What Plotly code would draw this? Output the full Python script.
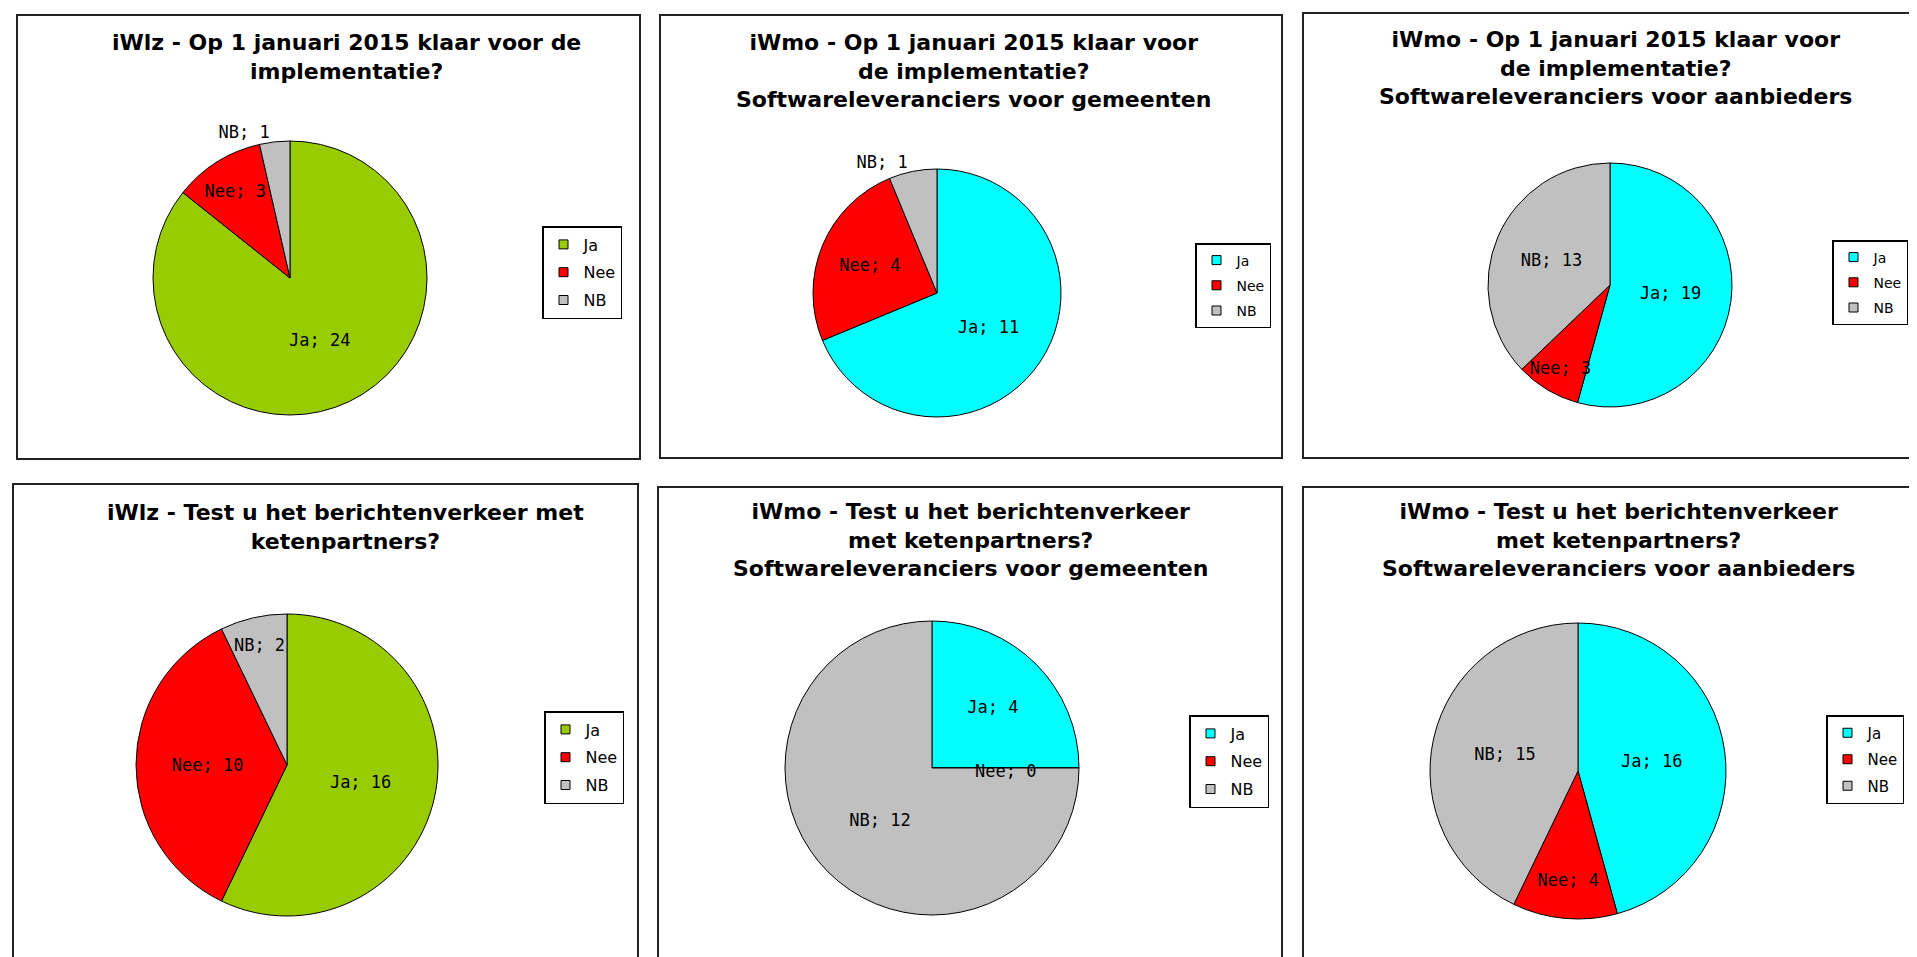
import math
import plotly.graph_objects as go

W, H = 1917, 957

# ---- data ----
labels = ["Ja", "Nee", "NB"]
titles = [
    "iWlz - Op 1 januari 2015 klaar voor de<br>implementatie?",
    "iWmo - Op 1 januari 2015 klaar voor<br>de implementatie?<br>Softwareleveranciers voor gemeenten",
    "iWmo - Op 1 januari 2015 klaar voor<br>de implementatie?<br>Softwareleveranciers voor aanbieders",
    "iWlz - Test u het berichtenverkeer met<br>ketenpartners?",
    "iWmo - Test u het berichtenverkeer<br>met ketenpartners?<br>Softwareleveranciers voor gemeenten",
    "iWmo - Test u het berichtenverkeer<br>met ketenpartners?<br>Softwareleveranciers voor aanbieders",
]
ja = [24, 11, 19, 16, 4, 16]
nee = [3, 4, 3, 10, 0, 4]
nb = [1, 1, 13, 2, 12, 15]

# ---- styling / layout (pixels) ----
GREEN, CYAN, RED, GREY = "#99CC00", "#00FFFF", "#FF0000", "#C0C0C0"
ja_colors = [GREEN, CYAN, CYAN, GREEN, CYAN, CYAN]
text_pos = [
    ["inside", "inside", "outside"],
    ["inside", "inside", "outside"],
    ["inside", "inside", "inside"],
    ["inside", "inside", "inside"],
    ["inside", "inside", "inside"],
    ["inside", "inside", "inside"],
]
pies = [  # cx, cy, r
    (282, 270, 137), (929, 285, 124), (1602, 277, 122),
    (279, 757, 151), (924, 760, 147), (1570, 763, 148),
]
frames = [  # x0, y0, x1, y1
    (9, 7, 632, 451), (652, 7, 1274, 450), (1295, 5, 1930, 450),
    (5, 476, 630, 953), (650, 479, 1274, 975), (1295, 479, 1930, 975),
]
title_pos = [(338, 49), (966, 63), (1607, 60), (337, 519), (962, 532), (1610, 532)]
legend_pos = [(534, 218), (1187, 235), (1824, 232), (536, 703), (1181, 707), (1818, 707)]
legend_font = [16, 14, 14, 16, 16, 15]
LABEL_FONT = "DejaVu Sans Mono"
LABEL_SIZE = 17
TEMPLATE = "%{label}; %{value}"

fig = go.Figure()
annotations = []
for i in range(6):
    cx, cy, r = pies[i]
    vals = [ja[i], nee[i], nb[i]]
    cols = [ja_colors[i], RED, GREY]
    total = sum(vals)
    templates = [TEMPLATE if v > 0 else "" for v in vals]
    fig.add_trace(go.Pie(
        labels=labels,
        values=vals,
        sort=False,
        direction="clockwise",
        rotation=0,
        marker=dict(colors=cols, line=dict(color="#000000", width=1)),
        texttemplate=templates,
        textposition=text_pos[i],
        insidetextorientation="horizontal",
        textfont=dict(family=LABEL_FONT, size=LABEL_SIZE, color="#000000"),
        hoverinfo="label+value",
        domain=dict(x=[(cx - r) / W, (cx + r) / W],
                    y=[1 - (cy + r) / H, 1 - (cy - r) / H]),
        showlegend=False,
    ))
    # labels for zero-valued slices, placed on the slice boundary (as Excel does)
    cum = 0
    for lab, v in zip(labels, vals):
        if v == 0:
            theta = 2 * math.pi * cum / total
            px = cx + 0.5 * r * math.sin(theta)
            py = cy - 0.5 * r * math.cos(theta) + 3
            annotations.append(dict(
                text=f"{lab}; {v}", x=px / W, y=1 - py / H, xref="paper", yref="paper",
                xanchor="center", yanchor="middle", showarrow=False,
                font=dict(family=LABEL_FONT, size=LABEL_SIZE, color="#000000"),
            ))
        cum += v
    # legend entries
    lg = "legend" if i == 0 else f"legend{i + 1}"
    for j, lab in enumerate(labels):
        fig.add_trace(go.Scatter(
            x=[None], y=[None], mode="markers", name=lab,
            marker=dict(symbol="square", size=9, color=cols[j],
                        line=dict(color="#000000", width=1)),
            legend=lg, legendgroup=f"g{i}_{j}", showlegend=True, hoverinfo="skip",
        ))

layout = dict(
    width=W, height=H,
    margin=dict(l=0, r=0, t=0, b=0),
    paper_bgcolor="white",
    plot_bgcolor="white",
    font=dict(family="DejaVu Sans", color="#000000"),
    uniformtext=dict(minsize=LABEL_SIZE, mode="show"),
    xaxis=dict(visible=False),
    yaxis=dict(visible=False),
    shapes=[],
    annotations=annotations,
)
for i in range(6):
    lx, ly = legend_pos[i]
    key = "legend" if i == 0 else f"legend{i + 1}"
    layout[key] = dict(
        x=lx / W, y=1 - ly / H, xanchor="left", yanchor="top",
        bgcolor="white", bordercolor="#000000", borderwidth=1.5,
        font=dict(family="DejaVu Sans", size=legend_font[i], color="#000000"),
        itemwidth=30, tracegroupgap=4, traceorder="grouped",
    )
    x0, y0, x1, y1 = frames[i]
    layout["shapes"].append(dict(
        type="rect", xref="paper", yref="paper",
        x0=x0 / W, x1=x1 / W, y0=1 - y1 / H, y1=1 - y0 / H,
        line=dict(color="#222222", width=2), fillcolor="rgba(0,0,0,0)", layer="below",
    ))
    tx, ty = title_pos[i]
    layout["annotations"].append(dict(
        text="<b>" + titles[i] + "</b>", x=tx / W, y=1 - ty / H,
        xref="paper", yref="paper", xanchor="center", yanchor="middle",
        showarrow=False, align="center",
        font=dict(family="DejaVu Sans", size=22, color="#000000"),
    ))

fig.update_layout(**layout)
fig.write_html("out.html")
